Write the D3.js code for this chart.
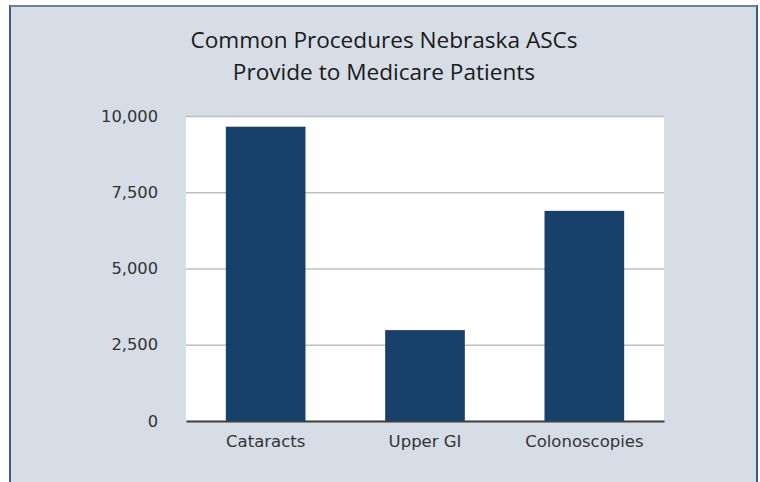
<!DOCTYPE html>
<html>
<head>
<meta charset="utf-8">
<script src="https://cdn.jsdelivr.net/npm/d3@7"></script>
<style>
  body { margin: 0; background: #fff; }
  svg text { fill: #333; }
</style>
</head>
<body>
<div id="chart"></div>
<script>
// data
const procedures = ['Cataracts', 'Upper GI', 'Colonoscopies']
const counts = [9650, 2980, 6890]
const yTicks = [0, 2500, 5000, 7500, 10000]
const titleLines = ['Common Procedures Nebraska ASCs', 'Provide to Medicare Patients']

const W = 760
const H = 482

const margin = { top: 116, right: 96, bottom: 61, left: 186 }
const width = W - margin.left - margin.right
const height = H - margin.top - margin.bottom

const root = d3.select('#chart')
  .append('svg')
  .attr('width', W)
  .attr('height', H)

// panel background + frame
root.append('rect')
  .attr('x', 10)
  .attr('y', 6)
  .attr('width', 747)
  .attr('height', H)
  .attr('fill', '#d6dde6')
  .attr('stroke', '#3a5a88')
  .attr('stroke-width', 2)

// top edge is a lighter line
root.append('line')
  .attr('x1', 10).attr('x2', 757)
  .attr('y1', 6).attr('y2', 6)
  .attr('stroke', '#6f8299')
  .attr('stroke-width', 2)

// title
root.append('g')
  .selectAll('text')
  .data(titleLines)
  .enter()
  .append('text')
  .attr('x', 384)
  .attr('y', (d, i) => 48 + i * 32)
  .attr('text-anchor', 'middle')
  .style('font-family', '"Open Sans", sans-serif')
  .style('font-size', '22.6px')
  .style('fill', '#1a1a1a')
  .text(d => d)

const svg = root.append('g')
  .attr('transform', 'translate(' + margin.left + ',' + margin.top + ')')

const xPositionScale = d3.scaleBand()
  .domain(procedures)
  .range([0, width])
  .paddingInner(0.5)
  .paddingOuter(0.25)

const yPositionScale = d3.scaleLinear()
  .domain([0, 10000])
  .range([height, 0])

// white plot area
svg.append('rect')
  .attr('width', width)
  .attr('height', height)
  .attr('fill', '#fff')

// gridlines + y labels
const yAxis = d3.axisLeft(yPositionScale)
  .tickValues(yTicks)
  .tickSize(-width)
  .tickPadding(28)
  .tickFormat(d3.format(','))

svg.append('g')
  .attr('class', 'axis y-axis')
  .call(yAxis)
  .call(g => g.select('.domain').remove())
  .call(g => g.selectAll('.tick line').attr('stroke', '#bfbfbf').attr('stroke-width', 1.5))
  .call(g => g.selectAll('.tick text')
    .style('font-family', '"DejaVu Sans", sans-serif')
    .style('font-size', '16.3px')
    .attr('fill', '#333'))

// bars
svg.selectAll('.bar')
  .data(procedures)
  .enter()
  .append('rect')
  .attr('class', 'bar')
  .attr('x', d => xPositionScale(d))
  .attr('y', (d, i) => yPositionScale(counts[i]))
  .attr('width', xPositionScale.bandwidth())
  .attr('height', (d, i) => height - yPositionScale(counts[i]))
  .attr('fill', '#17406a')

// x axis
const xAxis = d3.axisBottom(xPositionScale).tickSize(0).tickPadding(14)

svg.append('g')
  .attr('class', 'axis x-axis')
  .attr('transform', 'translate(0,' + height + ')')
  .call(xAxis)
  .call(g => g.select('.domain').attr('stroke', '#404040').attr('stroke-width', 2))
  .call(g => g.selectAll('.tick text')
    .style('font-family', '"DejaVu Sans", sans-serif')
    .style('font-size', '16.5px')
    .attr('fill', '#333'))
</script>
</body>
</html>
